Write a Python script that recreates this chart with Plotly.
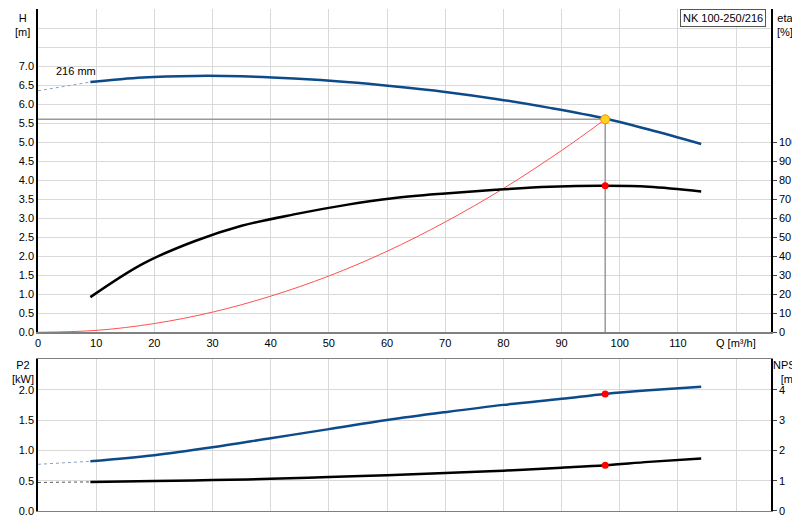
import plotly.graph_objects as go

# Q-H curve (216 mm impeller)
q_h = [9, 18, 27, 35, 44, 53, 61, 70, 79, 88, 97.5, 105, 114]
h = [6.58, 6.70, 6.74, 6.73, 6.67, 6.58, 6.47, 6.32, 6.13, 5.90, 5.62, 5.33, 4.95]
q_h_ext = [0, 9]
h_ext = [6.35, 6.58]

# efficiency [%]
eta = [18.5, 36, 48, 56, 62, 67, 70.5, 73, 75, 76.5, 77, 76.5, 74]

# system curve
q_sys = [0, 10, 20, 30, 40, 50, 60, 70, 80, 90, 97.5]
h_sys = [0, 0.05, 0.23, 0.53, 0.95, 1.48, 2.13, 2.9, 3.78, 4.78, 5.6]

# P2 [kW] and NPSH [m]
q_b = [9, 20, 30, 40, 50, 60, 70, 80, 90, 97.5, 105, 114]
p2 = [0.82, 0.92, 1.05, 1.20, 1.35, 1.50, 1.63, 1.75, 1.85, 1.93, 1.99, 2.05]
npsh = [0.96, 0.99, 1.02, 1.06, 1.12, 1.18, 1.25, 1.33, 1.43, 1.51, 1.62, 1.73]
p2_ext = [0.77, 0.82]
npsh_ext = [0.94, 0.96]

# duty point
q_op, h_op, eta_op, p2_op, npsh_op = 97.5, 5.6, 77, 1.93, 1.51

blue = "#0d4a8a"
fig = go.Figure()

# top panel
fig.add_trace(go.Scatter(x=[0, q_op, q_op], y=[h_op, h_op, 0], mode="lines",
                         line=dict(color="#999999", width=1.5), xaxis="x", yaxis="y"))
fig.add_trace(go.Scatter(x=q_h_ext, y=h_ext, mode="lines",
                         line=dict(color="#8aa0c0", width=1, dash="dot"), xaxis="x", yaxis="y"))
fig.add_trace(go.Scatter(x=q_h, y=h, mode="lines", line=dict(color=blue, width=2.5, shape="spline"),
                         xaxis="x", yaxis="y"))
fig.add_trace(go.Scatter(x=q_sys, y=h_sys, mode="lines", line=dict(color="#ff5050", width=1, shape="spline"),
                         xaxis="x", yaxis="y"))
fig.add_trace(go.Scatter(x=q_h, y=eta, mode="lines", line=dict(color="black", width=2.5, shape="spline"),
                         xaxis="x", yaxis="y2"))
fig.add_trace(go.Scatter(x=[q_op], y=[eta_op], mode="markers", marker=dict(color="red", size=7),
                         xaxis="x", yaxis="y2"))
fig.add_trace(go.Scatter(x=[q_op], y=[h_op], mode="markers",
                         marker=dict(color="#ffd21f", size=9, line=dict(color="#ff8c00", width=1)),
                         xaxis="x", yaxis="y"))

# bottom panel
fig.add_trace(go.Scatter(x=q_h_ext, y=p2_ext, mode="lines",
                         line=dict(color="#8aa0c0", width=1, dash="dot"), xaxis="x2", yaxis="y3"))
fig.add_trace(go.Scatter(x=q_b, y=p2, mode="lines", line=dict(color=blue, width=2.5, shape="spline"),
                         xaxis="x2", yaxis="y3"))
fig.add_trace(go.Scatter(x=q_h_ext, y=npsh_ext, mode="lines",
                         line=dict(color="#555555", width=1, dash="dot"), xaxis="x2", yaxis="y4"))
fig.add_trace(go.Scatter(x=q_b, y=npsh, mode="lines", line=dict(color="black", width=2.5, shape="spline"),
                         xaxis="x2", yaxis="y4"))
fig.add_trace(go.Scatter(x=[q_op, q_op], y=[p2_op * 2, npsh_op], mode="markers",
                         marker=dict(color="red", size=7), xaxis="x2", yaxis="y4"))

grid = "#d9d9d9"
font = dict(family="Liberation Sans, Arial", size=11, color="black")
xt = list(range(0, 130, 10))
xl = [str(v) if v <= 110 else "" for v in xt]
fig.update_layout(
    width=800, height=520, showlegend=False, plot_bgcolor="white", paper_bgcolor="white",
    margin=dict(l=30, r=37, t=1, b=17, autoexpand=False), font=font,
    xaxis=dict(domain=[0, 1], range=[0, 126], tickvals=xt, ticktext=xl, showgrid=True, gridcolor=grid,
               showline=True, linecolor="#808080", linewidth=2, zeroline=False, anchor="y", ticklen=0,
               automargin=False),
    xaxis2=dict(domain=[0, 1], range=[0, 126], tickvals=xt, showticklabels=False, showgrid=True,
                gridcolor=grid, showline=True, linecolor="#808080", linewidth=1, mirror=True,
                zeroline=False, anchor="y3", automargin=False),
    yaxis=dict(domain=[0.356, 1], range=[0, 8.5], tickvals=[i * 0.5 for i in range(18)],
               ticktext=[f"{i*0.5:.1f}" if i <= 14 else "" for i in range(18)],
               showgrid=True, gridcolor=grid, showline=True, linecolor="black", linewidth=1.5,
               zeroline=False, ticklen=0, anchor="x", automargin=False),
    yaxis2=dict(overlaying="y", side="right", range=[0, 170], tickvals=list(range(0, 110, 10)),
                showgrid=False, showline=True, linecolor="black", linewidth=1.5, ticks="outside",
                ticklen=4, zeroline=False, anchor="x", automargin=False),
    yaxis3=dict(domain=[0, 0.302], range=[0, 2.5], tickvals=[0, 0.5, 1, 1.5, 2],
                ticktext=["0.0", "0.5", "1.0", "1.5", "2.0"], showgrid=True, gridcolor=grid,
                showline=True, linecolor="black", linewidth=1.5, zeroline=False, ticklen=0, anchor="x2",
                automargin=False),
    yaxis4=dict(overlaying="y3", side="right", range=[0, 5], tickvals=[0, 1, 2, 3, 4],
                showgrid=False, showline=True, linecolor="black", linewidth=1.5, ticks="outside",
                ticklen=4, zeroline=False, anchor="x2", automargin=False),
)

# pixel -> paper conversion (plot area 30..763 x, 1..503 y)
def px(xp):
    return (xp - 30) / 733

def py(yp):
    return (503 - yp) / 502

ann = [
    ("H<br>[m]", 15, 2),
    ("eta<br>[%]", 777, 2),
    ("P2<br>[kW]", 15, 349),
    ("NPSH<br>[m]", 780, 349),
]
for text, xp, yp in ann:
    fig.add_annotation(text=text, x=px(xp), y=py(yp), xref="paper", yref="paper",
                       xanchor="center", yanchor="top", showarrow=False, align="center", font=font)
fig.add_annotation(text="Q [m³/h]", x=120, y=0, xref="x", yref="y", yanchor="top", yshift=-3,
                   showarrow=False, font=font)
fig.add_annotation(text="216 mm", x=6.5, y=6.88, xref="x", yref="y", showarrow=False, font=font)
fig.add_annotation(text="NK 100-250/216", x=px(758), y=1, xref="paper", yref="paper", xanchor="right",
                   yanchor="top", showarrow=False, font=font, bgcolor="white",
                   bordercolor="#555555", borderwidth=1, borderpad=2)

fig.write_html("out.html")
